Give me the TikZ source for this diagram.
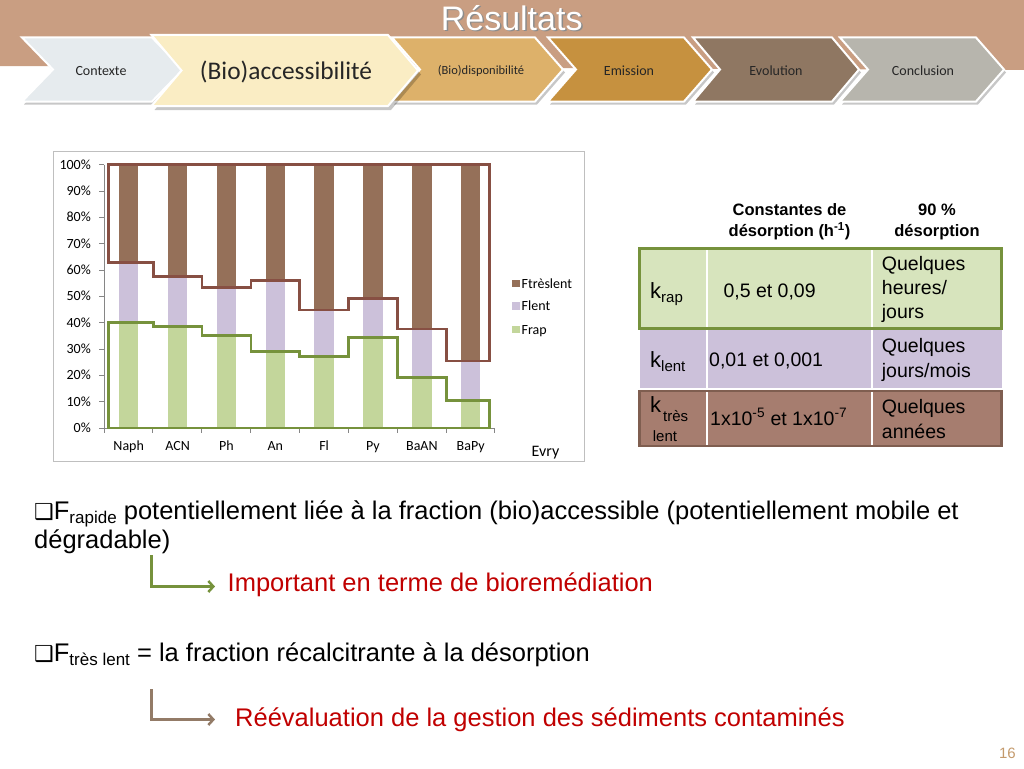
\documentclass[tikz,border=0pt]{standalone}
\usepackage{fontspec}
\setmainfont{Liberation Sans}
\newfontfamily\calfont{Carlito}
\newfontfamily\dvfont{DejaVu Sans}
\usetikzlibrary{arrows.meta}
\definecolor{band}{HTML}{C99E82}
\definecolor{cctx}{HTML}{E6EBEE}
\definecolor{cacc}{HTML}{FAEDC4}
\definecolor{cdisp}{HTML}{DDB16A}
\definecolor{cemis}{HTML}{C6913F}
\definecolor{cevol}{HTML}{8F7762}
\definecolor{cconc}{HTML}{B7B5AD}
\definecolor{ctres}{HTML}{957059}
\definecolor{clent}{HTML}{CCC1DA}
\definecolor{crap}{HTML}{C3D69B}
\definecolor{lbrown}{HTML}{874F43}
\definecolor{lgreen}{HTML}{76923C}
\definecolor{trap}{HTML}{D7E4BD}
\definecolor{tlent}{HTML}{CCC1DA}
\definecolor{ttres}{HTML}{A67D6F}
\definecolor{ttresb}{HTML}{7F5E50}
\definecolor{redtxt}{HTML}{C00000}
\definecolor{abrown}{HTML}{937B67}
\definecolor{pgnum}{HTML}{C49A6C}
\definecolor{axisgray}{HTML}{868686}
\newcommand\ksub[1]{\raisebox{-4pt}{\fontsize{15}{16}\selectfont #1}}
\newcommand\fsub[1]{\raisebox{-4pt}{\fontsize{17}{18}\selectfont #1}}
\newcommand\bul{{\dvfont\fontsize{22}{24}\selectfont ❑}}
\begin{document}
\begin{tikzpicture}[x=1pt,y=-1pt,
  chev/.style={draw=white,line width=2pt},
  chevshadow/.style={fill=black,opacity=0.22},
  chevlab/.style={font=\calfont\fontsize{14}{16}\selectfont,text=black!85,inner sep=0,anchor=base},
  titletext/.style={font=\fontsize{34}{36}\selectfont,inner sep=0,anchor=base},
  chartlab/.style={font=\calfont\fontsize{14}{16}\selectfont,inner sep=0,text=black},
  hdr/.style={font=\bfseries\fontsize{16.5}{18}\selectfont,inner sep=0,anchor=base},
  cell/.style={font=\fontsize{19.5}{21}\selectfont,inner sep=0,anchor=base west},
  kcell/.style={font=\fontsize{22}{24}\selectfont,inner sep=0,anchor=base west},
  smallcell/.style={font=\fontsize{15}{16}\selectfont,inner sep=0,anchor=base west},
  body/.style={font=\fontsize{25.5}{28}\selectfont,inner sep=0,anchor=base west},
  redline/.style={font=\fontsize{25.5}{28}\selectfont,inner sep=0,anchor=base west,text=redtxt},
  arr/.style={line width=2.5pt,-{Straight Barb[length=5pt,width=11pt]}}]
\useasboundingbox (0,0) rectangle (1024,768);
% header band
\fill[band] (0,0) -- (1024,0) -- (1024,70) -- (0,66) -- cycle;
\node[titletext,text=black!45] (titleshadow) at (513.2,32) {Résultats};
\node[titletext,text=white] (title) at (511.7,30.5) {Résultats};
% chevrons
\foreach \L/\R/\d/\col in {22/183/31/cctx, 392/563/28/cdisp, 548/712/28/cemis, 693/859/27/cevol, 840/1004/28/cconc}{
  \begin{scope}[shift={(2,3)}]
    \fill[chevshadow] (\L,37.5) -- ({\R-\d},37.5) -- (\R,69.5) -- ({\R-\d},101.5) -- (\L,101.5) -- ({\L+\d},69.5) -- cycle;
  \end{scope}
  \filldraw[chev,fill=\col] (\L,37.5) -- ({\R-\d},37.5) -- (\R,69.5) -- ({\R-\d},101.5) -- (\L,101.5) -- ({\L+\d},69.5) -- cycle;
}
\begin{scope}[shift={(3,4)}]
  \fill[chevshadow] (151.5,35) -- (388,35) -- (418,70.5) -- (388,106) -- (151.5,106) -- (181.5,70.5) -- cycle;
\end{scope}
\filldraw[chev,fill=cacc] (151.5,35) -- (388,35) -- (418,70.5) -- (388,106) -- (151.5,106) -- (181.5,70.5) -- cycle;
\node[chevlab] (c1) at (101,75) {Contexte};
\node[chevlab,font=\calfont\fontsize{25.4}{28}\selectfont] (c2) at (286,79) {(Bio)accessibilité};
\node[chevlab,font=\calfont\fontsize{12.5}{14}\selectfont] (c3) at (481,74.5) {(Bio)disponibilité};
\node[chevlab] (c4) at (629,75) {Emission};
\node[chevlab] (c5) at (776,75) {Evolution};
\node[chevlab] (c6) at (923,75) {Conclusion};
% chart frame
\draw[black!25,line width=0.8pt] (53.5,151.5) rectangle (584,461);
% bars
\foreach \i/\g/\b/\n in {0/322.5/262.5/Naph, 1/326.5/276.5/ACN, 2/335.5/287.5/Ph, 3/351.6/280.7/An, 4/356.3/310/Fl, 5/337.6/298.6/Py, 6/377.5/329/BaAN, 7/400.5/361/BaPy}{
  \pgfmathsetmacro\cx{128.7+48.86*\i}
  \fill[crap] ({\cx-9.7},428) rectangle ({\cx+9.7},\g);
  \fill[clent] ({\cx-9.7},\g) rectangle ({\cx+9.7},\b);
  \fill[ctres] ({\cx-9.7},\b) rectangle ({\cx+9.7},164.7);
  \node[chartlab,anchor=base] (cat\i) at (\cx,450.5) {\n};
}
% axes
\draw[axisgray,line width=0.8pt] (104,164.7) -- (104,428) -- (495,428);
\foreach \v in {0,10,...,100}{
  \draw[axisgray,line width=0.8pt] (99,{428-2.633*\v}) -- (104,{428-2.633*\v});
  \node[chartlab,anchor=base east] (yl\v) at (91,{428-2.633*\v+4.6}) {\v\%};
}
\foreach \k in {0,...,8}{
  \draw[axisgray,line width=0.8pt] ({104+48.86*\k},428) -- ({104+48.86*\k},433);
}
% step lines
\draw[lbrown,line width=2.8pt] (108.5,164.7) -- (108.5,262.5) -| (153.1,276.5) -| (202,287.5) -| (250.9,280.7) -| (299.7,310) -| (348.6,298.6) -| (397.4,329) -| (446.3,361) -- (489.5,361) -- (489.5,164.7) -- cycle;
\draw[lgreen,line width=2.8pt] (108.5,428) -- (108.5,322.5) -| (153.1,326.5) -| (202,335.5) -| (250.9,351.6) -| (299.7,356.3) -| (348.6,337.6) -| (397.4,377.5) -| (446.3,400.5) -- (489.5,400.5) -- (489.5,428) -- cycle;
% legend
\fill[ctres] (512,279.5) rectangle (519.5,287);
\fill[clent] (512,302) rectangle (519.5,309.5);
\fill[crap] (512,325.5) rectangle (519.5,333);
\node[chartlab,anchor=base west] (lg1) at (521.5,288) {Ftrèslent};
\node[chartlab,anchor=base west] (lg2) at (521.5,310.5) {Flent};
\node[chartlab,anchor=base west] (lg3) at (521.5,334) {Frap};
\node[chartlab,anchor=base,font=\calfont\fontsize{16}{18}\selectfont] (evry) at (545.5,456) {Evry};
% table
\fill[trap] (639.5,248.5) rectangle (1001.5,328.5);
\fill[tlent] (639.5,330) rectangle (1001.5,388);
\fill[ttres] (639.5,391) rectangle (1001.5,446);
\draw[white,line width=2pt] (706.7,249) -- (706.7,445.5) (872.3,249) -- (872.3,445.5);
\draw[lgreen,line width=3pt] (639.5,248.5) rectangle (1001.5,328.5);
\draw[ttresb,line width=2.5pt] (639.5,391) rectangle (1001.5,446);
\node[hdr] (h1a) at (789.5,215.7) {Constantes de};
\node[hdr] (h1b) at (789.5,236.7) {désorption (h\textsuperscript{-1})};
\node[hdr] (h2a) at (937,215.7) {90 \%};
\node[hdr] (h2b) at (937,236.7) {désorption};
\node[kcell] (k1) at (650,298) {k\ksub{rap}};
\node[cell] (v1) at (723.3,297) {0,5 et 0,09};
\node[cell] (q1a) at (881.7,270) {Quelques};
\node[cell] (q1b) at (881.7,294) {heures/};
\node[cell] (q1c) at (881.7,318) {jours};
\node[kcell] (k2) at (650,367) {k\ksub{lent}};
\node[cell] (v2) at (709,366) {0,01 et 0,001};
\node[cell] (q2a) at (881.7,352) {Quelques};
\node[cell] (q2b) at (881.7,377) {jours/mois};
\node[kcell] (k3) at (650,412) {k};
\node[smallcell] (k3s) at (663,421.7) {très};
\node[smallcell] (k3t) at (652.7,441.7) {lent};
\node[cell] (v3) at (710,425) {1x10\textsuperscript{-5} et 1x10\textsuperscript{-7}};
\node[cell] (q3a) at (881.7,413) {Quelques};
\node[cell] (q3b) at (881.7,438) {années};
% bottom text
\node[body] (t1) at (34,519.3) {\bul F\fsub{rapide} potentiellement liée à la fraction (bio)accessible (potentiellement mobile et};
\node[body] (t2) at (34,548.3) {dégradable)};
\node[redline] (r1) at (227.5,591.7) {Important en terme de bioremédiation};
\node[body] (t3) at (34,661.7) {\bul F\fsub{très lent} = la fraction récalcitrante à la désorption};
\node[redline] (r2) at (235,726.7) {Réévaluation de la gestion des sédiments contaminés};
\coordinate (a1s) at (151.6,555);
\coordinate (a1e) at (215,586.5);
\coordinate (a2s) at (151.6,689);
\coordinate (a2e) at (215,719.5);
\draw[arr,lgreen] (a1s) |- (a1e);
\draw[arr,abrown] (a2s) |- (a2e);
\node[inner sep=0,anchor=base east,font=\fontsize{15}{16}\selectfont,text=pgnum] (pg) at (1016,758) {16};
\end{tikzpicture}
\end{document}
